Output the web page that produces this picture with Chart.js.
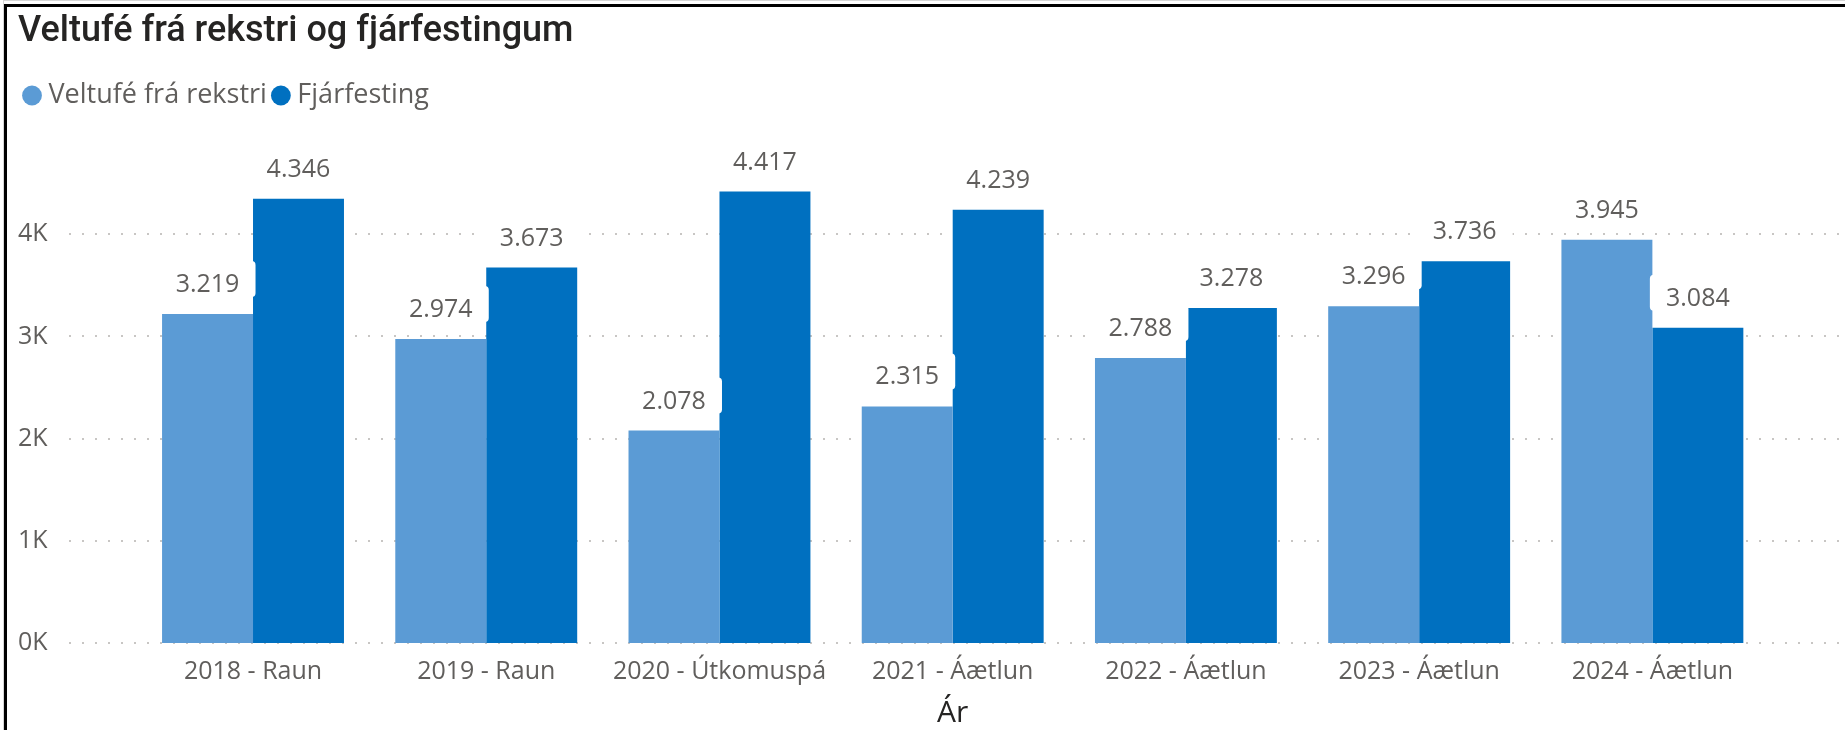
<!DOCTYPE html>
<html lang="is">
<head>
<meta charset="utf-8">
<title>Veltufé frá rekstri og fjárfestingum</title>
<script src="https://cdn.jsdelivr.net/npm/chart.js@4.4.1/dist/chart.umd.min.js"></script>
<style>
  html, body { margin: 0; padding: 0; background: #fff; }
  .chart-wrap { position: relative; width: 1845px; height: 730px; overflow: hidden; }
  .chart-wrap canvas { position: absolute; left: 0; top: 0; }
  .frame-outer { position: absolute; left: 3px; top: 0; right: 0; height: 730px; border-top: 1px solid #d6d6d6; border-left: 1px solid #d6d6d6; pointer-events: none; }
  .frame { position: absolute; left: 4px; top: 4px; right: -10px; bottom: -10px; border-top: 3px solid #000; border-left: 3px solid #000; pointer-events: none; }
</style>
</head>
<body>
<div class="chart-wrap">
  <canvas id="chart" width="1845" height="730"></canvas>
  <div class="frame-outer"></div>
  <div class="frame"></div>
</div>
<script>
// categories and values
const years = ['2018 - Raun', '2019 - Raun', '2020 - Útkomuspá', '2021 - Áætlun', '2022 - Áætlun', '2023 - Áætlun', '2024 - Áætlun'];
const rekstur = [3219, 2974, 2078, 2315, 2788, 3296, 3945];
const fjarfesting = [4346, 3673, 4417, 4239, 3278, 3736, 3084];
const yTicks = [0, 1000, 2000, 3000, 4000];

const LIGHT = '#5B9BD5';
const DARK = '#0070C0';
const TEXT_GREY = '#605E5C';
const UI_FONT = "'Segoe UI', 'Open Sans', sans-serif";

// thousands with a dot, as in Icelandic
function fmt(v) {
  const s = String(Math.round(v));
  return s.length > 3 ? s.slice(0, -3) + '.' + s.slice(-3) : s;
}

// dotted horizontal gridlines, wider than the plot area like Power BI
const dottedGrid = {
  id: 'dottedGrid',
  beforeDatasetsDraw(chart) {
    const { ctx } = chart;
    const y = chart.scales.y;
    ctx.save();
    ctx.strokeStyle = '#c8c6c4';
    ctx.lineWidth = 2;
    ctx.setLineDash([2, 11]);
    yTicks.forEach(v => {
      const py = Math.round(y.getPixelForValue(v));
      ctx.beginPath();
      ctx.moveTo(69, py);
      ctx.lineTo(1845, py);
      ctx.stroke();
    });
    ctx.restore();
  }
};

// value labels on a white rounded box above each bar
const barLabels = {
  id: 'barLabels',
  afterDatasetsDraw(chart) {
    const { ctx } = chart;
    ctx.save();
    ctx.font = "25px " + UI_FONT;
    ctx.textAlign = 'center';
    ctx.textBaseline = 'alphabetic';
    chart.data.datasets.forEach((ds, di) => {
      const meta = chart.getDatasetMeta(di);
      meta.data.forEach((bar, i) => {
        const x = bar.x, top = bar.y;
        ctx.fillStyle = '#fff';
        ctx.beginPath();
        ctx.roundRect(x - 48, top - 53, 96, 36, 4);
        ctx.fill();
        ctx.fillStyle = TEXT_GREY;
        ctx.fillText(fmt(ds.data[i]), x, top - 22);
      });
    });
    ctx.restore();
  }
};

const ctx = document.getElementById('chart').getContext('2d');
new Chart(ctx, {
  type: 'bar',
  data: {
    labels: years,
    datasets: [
      { label: 'Veltufé frá rekstri', data: rekstur, backgroundColor: LIGHT },
      { label: 'Fjárfesting', data: fjarfesting, backgroundColor: DARK }
    ]
  },
  options: {
    responsive: false,
    animation: false,
    layout: { padding: { left: 18, right: 76, top: 8, bottom: 0 } },
    datasets: { bar: { categoryPercentage: 0.78, barPercentage: 1.0, borderWidth: 0 } },
    plugins: {
      title: {
        display: true,
        text: 'Veltufé frá rekstri og fjárfestingum',
        align: 'start',
        color: '#252423',
        font: { family: "Roboto, 'DejaVu Sans', sans-serif", size: 36, weight: '500' },
        padding: { top: 2, bottom: 17.8 }
      },
      legend: {
        display: true,
        align: 'start',
        labels: {
          usePointStyle: true,
          pointStyle: 'circle',
          boxWidth: 6,
          boxHeight: 14,
          padding: 11,
          color: TEXT_GREY,
          font: { family: UI_FONT, size: 27 }
        }
      },
      tooltip: { enabled: false }
    },
    scales: {
      x: {
        grid: { display: false, drawTicks: false },
        border: { display: false },
        ticks: {
          color: TEXT_GREY,
          font: { family: UI_FONT, size: 25 },
          padding: 14,
          autoSkip: false,
          maxRotation: 0
        },
        title: {
          display: true,
          text: 'Ár',
          color: '#252423',
          font: { family: UI_FONT, size: 30, lineHeight: 1 },
          padding: { top: -3, bottom: 2 }
        }
      },
      y: {
        min: 0,
        max: 5127,
        grid: { display: false, drawTicks: false },
        border: { display: false },
        afterBuildTicks(scale) { scale.ticks = yTicks.map(v => ({ value: v })); },
        afterFit(scale) { scale.width = 118.4; },
        ticks: {
          padding: 0,
          crossAlign: 'far',
          color: TEXT_GREY,
          font: { family: UI_FONT, size: 25 },
          callback: v => (v / 1000) + 'K'
        }
      }
    }
  },
  plugins: [dottedGrid, barLabels]
});
</script>
</body>
</html>
